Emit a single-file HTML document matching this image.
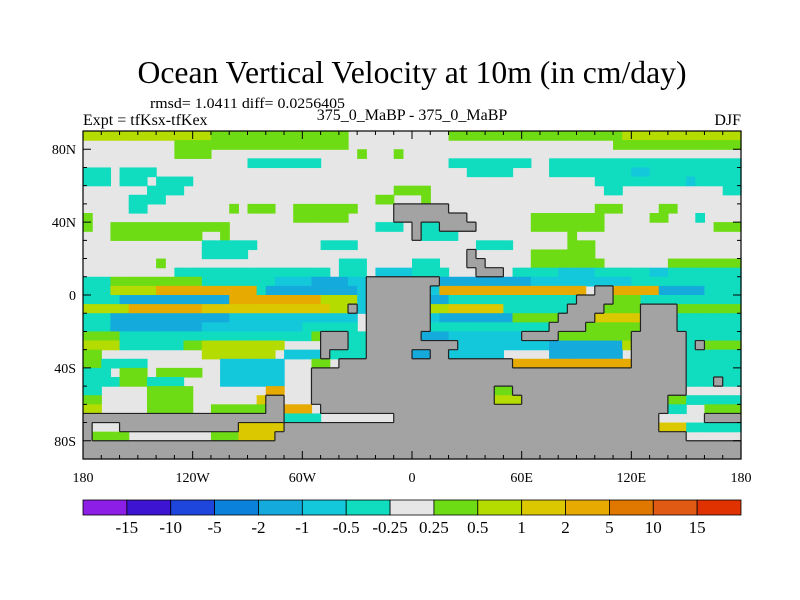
<!DOCTYPE html>
<html><head><meta charset="utf-8">
<style>
html,body{margin:0;padding:0;background:#fff;}
svg{display:block;font-family:"Liberation Serif",serif;}
</style></head>
<body>
<svg id="chart" width="800" height="600" xmlns="http://www.w3.org/2000/svg">
<text x="412" y="83" text-anchor="middle" font-size="31.5" textLength="549" lengthAdjust="spacingAndGlyphs">Ocean Vertical Velocity at 10m (in cm/day)</text>
<text x="150" y="108" font-size="15" textLength="195" lengthAdjust="spacingAndGlyphs">rmsd= 1.0411 diff= 0.0256405</text>
<text x="83" y="125" font-size="16">Expt = tfKsx-tfKex</text>
<text x="412" y="120" text-anchor="middle" font-size="16">375_0_MaBP - 375_0_MaBP</text>
<text x="741" y="125" text-anchor="end" font-size="16">DJF</text>
<g id="field"></g>
<g id="coast"></g>
<g id="axes"></g>
<g id="cbar"></g>
</svg>
<script>
// data: category codes per 5-degree cell, rows from 90N southward, runs "startCol code"
const rowRuns = [
"0y 14g 29. 40g 59y",
"0. 10g 29. 58g",
"0. 10g 14. 30g 31. 34g 35.",
"0. 18t 26. 40t 49. 51t",
"0t 3. 4t 8. 42t 47. 51t 60c 62t",
"0t 3. 4t 7. 8t 12. 56t 66c 67t",
"0. 7t 11. 34g 38. 57t 59. 70t",
"0. 5t 9. 32g 34. 37g 38.",
"0. 5t 7. 16g 17. 18g 21. 23g 30. 34# 40. 56g 59. 63g 65.",
"0g 1. 23g 29. 34# 42. 49g 57. 62g 64. 67t 68.",
"0g 1. 3g 16. 32t 35. 36# 37t 39# 43. 49g 57. 69g",
"0. 3g 13. 15g 16. 36# 37t 41. 53g 54.",
"0. 13t 19. 26t 30. 43t 47. 53g 56.",
"0. 13t 18. 42# 43. 49g 56.",
"0. 8g 9. 28t 31. 36t 39. 42# 44. 49g 57. 64g",
"0. 10t 27. 28t 31. 32c 36t 40. 43# 46. 47t 52c 56t 62c 64t",
"0t 3g 13t 21c 25b 29c 31# 39b 49c 60t",
"0t 3y 8r 19t 20b 30c 31# 38c 39r 55. 56# 58r 63b 68t",
"0t 4b 16r 26y 30c 31# 38b 40t 54# 58g 61t",
"0y 5r 13o 27y 29# 30c 31# 38y 40o 46t 53# 57g 61# 65g",
"0t 3b 16c 30. 31# 38c 39b 47g 52# 56o 61# 65t",
"0t 3b 13c 24t 30. 31# 38t 51# 55g 61# 65t",
"0g 4t 25g 26# 29t 31# 36# 37b 40c 48# 52g 60# 66t",
"0y 4t 11g 13y 22. 26# 29t 31# 38# 41c 51b 59y 60# 66t 67# 68g",
"0g 2. 13y 21. 22c 26# 27t 31# 36b 38# 40c 46. 51b 59. 60# 66t",
"0g 2t 7. 15c 22. 25g 27. 28# 47r 60# 66t",
"0t 3. 4g 7. 8g 13. 15c 22. 25# 60# 66t",
"0t 4g 7t 11. 15c 22. 25# 66t 69# 70t",
"0t 2. 7g 12. 20r 22. 25# 45g 47# 66.",
"0g 2. 7g 12. 19o 20# 22. 25# 45y 48# 64g 66t",
"0y 2. 7g 12. 14g 20# 22r 25. 26# 64t 66. 68g",
"0# 22t 26. 34# 63. 68#",
"0# 1. 4# 17o 22# 63o 66t",
"0# 1g 5. 14g 17o 21# 66.",
"0#",
"0#"
];
const cbLabels = ["-15","-10","-5","-2","-1","-0.5","-0.25","0.25","0.5","1","2","5","10","15"];
const cbColors = ["#8c1ee6","#3c14d2","#1e46dc","#0a82dc","#14aadc","#14c8dc","#10dcc0","#e6e6e6","#6edc14","#b4dc00","#dcc800","#e6aa00","#e07800","#e05a14","#e03200"];
const codeColor = {".":"#e6e6e6","g":"#6edc14","y":"#b4dc00","o":"#dcc800","r":"#e6aa00","t":"#10dcc0","c":"#14c8dc","b":"#14aadc","B":"#0a82dc","#":"#a3a3a3"};
const lonTicks = [-180,-120,-60,0,60,120,180];
const lonLabels = ["180","120W","60W","0","60E","120E","180"];
const latTicks = [80,40,0,-40,-80];
const latLabels = ["80N","40N","0","40S","80S"];

const NS="http://www.w3.org/2000/svg";
const X0=83,X1=741,Y0=131,Y1=459;
const xs = lon => X0+(lon+180)/360*(X1-X0);
const ys = lat => Y0+(90-lat)/180*(Y1-Y0);
function mk(tag,attrs,parent){const e=document.createElementNS(NS,tag);for(const k in attrs)e.setAttribute(k,attrs[k]);parent.appendChild(e);return e;}

const NC=72;
const grid = rowRuns.map(s=>{
  const row=new Array(NC).fill(".");
  const runs=s.split(" ").map(t=>[parseInt(t),t.replace(/^\d+/,"")]);
  runs.forEach((r,i)=>{const end=i+1<runs.length?runs[i+1][0]:NC;for(let c=r[0];c<end;c++)row[c]=r[1];});
  return row;
});
const field=document.getElementById("field");
mk("rect",{x:X0,y:Y0,width:X1-X0,height:Y1-Y0,fill:"#e6e6e6"},field);
grid.forEach((row,r)=>{
  row.forEach((code,c)=>{
    if(code===".")return;
    const x=xs(-180+c*5),y=ys(90-r*5);
    const el=mk("rect",{x:x,y:y,width:xs(-175+c*5)-x+0.6,height:ys(85-r*5)-y+0.6,fill:codeColor[code]},field);
    
    
  });
});
// land outlines
const coast=document.getElementById("coast");
let d="";
const isL=(r,c)=>r>=0&&r<grid.length&&c>=0&&c<NC&&grid[r][c]==="#";
grid.forEach((row,r)=>row.forEach((code,c)=>{
  if(code!=="#")return;
  const xa=xs(-180+c*5),xb=xs(-175+c*5),ya=ys(90-r*5),yb=ys(85-r*5);
  if(r>0&&!isL(r-1,c))d+=`M${xa},${ya}H${xb}`;
  if(r<grid.length-1&&!isL(r+1,c))d+=`M${xa},${yb}H${xb}`;
  if(c>0&&!isL(r,c-1))d+=`M${xa},${ya}V${yb}`;
  if(c<NC-1&&!isL(r,c+1))d+=`M${xb},${ya}V${yb}`;
}));
const cp=mk("path",{d:d,stroke:"#222",fill:"none","stroke-width":1.2},coast);



// axes
const axes=document.getElementById("axes");
mk("rect",{x:X0,y:Y0,width:X1-X0,height:Y1-Y0,fill:"none",stroke:"#000","stroke-width":1.2},axes);
let td="";
for(let lon=-180;lon<=180;lon+=10){const L=(lon%60===0)?8:4;const x=xs(lon);td+=`M${x},${Y1}v${-L}M${x},${Y0}v${L}`;}
for(let lat=-90;lat<=90;lat+=10){const L=(lat%40===0)?8:4;const y=ys(lat);td+=`M${X0},${y}h${L}M${X1},${y}h${-L}`;}
mk("path",{d:td,stroke:"#000","stroke-width":1,fill:"none"},axes);
lonTicks.forEach((v,i)=>{
  const t=mk("text",{x:xs(v),y:482,"text-anchor":"middle","font-size":14},axes);t.textContent=lonLabels[i];
  
  
});
latTicks.forEach((v,i)=>{
  const t=mk("text",{x:76,y:ys(v)+5,"text-anchor":"end","font-size":14},axes);t.textContent=latLabels[i];
  
  
});
// colorbar
const cb=document.getElementById("cbar");
const bw=(X1-X0)/cbColors.length;
cbColors.forEach((col,i)=>{
  const r=mk("rect",{x:X0+i*bw,y:500,width:bw,height:15,fill:col,stroke:"#000","stroke-width":0.8},cb);
  
  
});
cbLabels.forEach((l,i)=>{
  const t=mk("text",{x:X0+(i+1)*bw,y:533,"text-anchor":"middle","font-size":17},cb);t.textContent=l;
  
  
});
</script>
</body></html>
